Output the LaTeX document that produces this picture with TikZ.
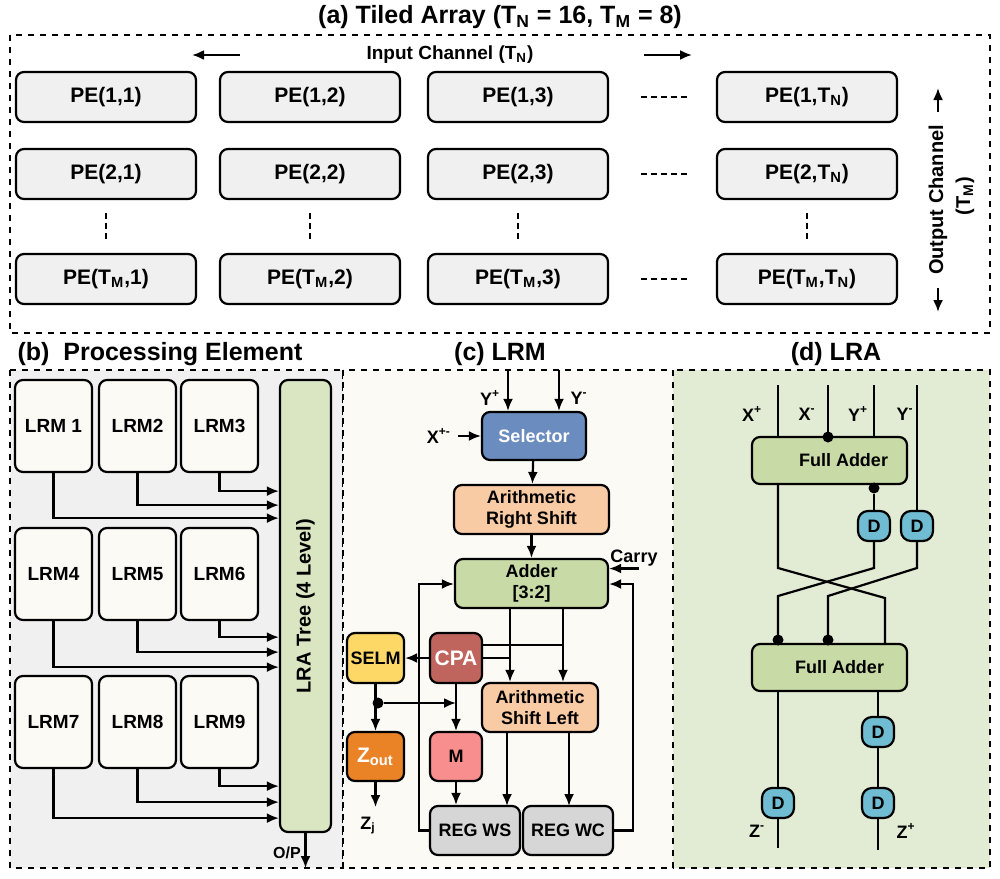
\documentclass[tikz,border=0pt]{standalone}
\usepackage{fontspec}
\setmainfont{Liberation Sans}
\usetikzlibrary{arrows.meta, positioning, calc}

\definecolor{peGray}{HTML}{F0F0F0}
\definecolor{lrmBg}{HTML}{FCFAF5}
\definecolor{lraBg}{HTML}{E2EBD3}
\definecolor{selBlue}{HTML}{6B8CBE}
\definecolor{shiftPeach}{HTML}{F9CBA5}
\definecolor{addGreen}{HTML}{C8DBA6}
\definecolor{selmYellow}{HTML}{FDD866}
\definecolor{cpaRed}{HTML}{C0645E}
\definecolor{mPink}{HTML}{F88E8E}
\definecolor{zOrange}{HTML}{E98326}
\definecolor{regGray}{HTML}{D6D6D6}
\definecolor{dBlue}{HTML}{6FBCD3}

\tikzset{
    blk/.style={draw, line width=1.1pt, rounded corners=4pt, font=\bfseries\fontsize{9}{10.5}\selectfont, align=center, inner sep=0pt},
    frame/.style={draw, dashed, line width=0.8pt},
    wire/.style={line width=1.1pt},
    arr/.style={wire, -{Latex[length=6pt,width=5pt]}},
    ttl/.style={font=\bfseries\fontsize{12.5}{14}\selectfont},
    lbl/.style={font=\bfseries\fontsize{9}{10}\selectfont},
    dot/.style={circle, fill, inner sep=0pt, minimum size=5.5pt}
}

\begin{document}
\begin{tikzpicture}[x=0.5pt, y=-0.5pt]
\useasboundingbox (0,0) rectangle (1000,878);

% (a) Tiled array
\node[ttl] (ttlA) at (500,17) {(a) Tiled Array (T\textsubscript{N} = 16, T\textsubscript{M} = 8)};
\draw[frame] (10,35) rectangle (990,333);
\node[lbl, font=\bfseries\fontsize{9.5}{11}\selectfont] (inCh) at (450,55) {Input Channel (T\textsubscript{N})};
\coordinate (inL) at (192,55);
\coordinate (inR) at (692,55);
\draw[arr] ($(inL)+(48,0)$) -- (inL);
\draw[arr] ($(inR)+(-48,0)$) -- (inR);

\foreach \c/\x/\t in {1/106/1, 2/310/2, 3/518/3, 4/807/T\textsubscript{N}} {
    \node[blk, fill=peGray, minimum width=90pt, minimum height=25pt, font=\bfseries\fontsize{10.5}{12}\selectfont] (pe1\c) at (\x,97) {PE(1,\t)};
    \node[blk, fill=peGray, minimum width=90pt, minimum height=25pt, font=\bfseries\fontsize{10.5}{12}\selectfont] (pe2\c) at (\x,174) {PE(2,\t)};
    \node[blk, fill=peGray, minimum width=90pt, minimum height=25pt, font=\bfseries\fontsize{10.5}{12}\selectfont] (pe3\c) at (\x,279) {PE(T\textsubscript{M},\t)};
    \draw[wire, densely dashed] ($(pe2\c.south)+(0,13)$) -- ($(pe3\c.north)+(0,-10)$);
}
\foreach \r in {1,2,3}
    \draw[wire, densely dashed] ($(pe\r3.east)+(32,0)$) -- ($(pe\r4.west)+(-28,0)$);

\node[lbl, rotate=90, font=\bfseries\fontsize{10}{11}\selectfont] (outCh) at (938,200) {Output Channel};
\node[lbl, rotate=90, font=\bfseries\fontsize{10}{11}\selectfont] (outTm) at (965,196) {(T\textsubscript{M})};
\draw[arr] ($(outCh.east)+(0,-6)$) -- (938,88);
\draw[arr] ($(outCh.west)+(0,6)$) -- (938,312);

% (b) Processing element
\node[ttl] (ttlB) at (160,354) {(b)\ \ Processing Element};
\draw[frame, fill=peGray] (10,370) rectangle (343,868);
\node[blk, fill=addGreen!70, minimum width=25.5pt, minimum height=226pt] (tree) at (305.5,606) {};
\node[lbl, rotate=90, font=\bfseries\fontsize{10}{11}\selectfont] at (tree) {LRA Tree (4 Level)};
\foreach \r/\y in {0/426, 1/574, 2/722} {
    \foreach \c/\x in {1/53.5, 2/137.5, 3/219.5} {
        \pgfmathtruncatemacro{\k}{3*\r+\c}
        \node[blk, fill=lrmBg, minimum width=38.5pt, minimum height=46pt, font=\bfseries\fontsize{9.5}{11}\selectfont] (lrm\k) at (\x,\y) {\ifnum\k=1 LRM 1\else LRM\k\fi};
    }
}
\foreach \k/\dy in {1/91, 2/78, 3/64, 4/92, 5/77, 6/62, 7/95, 8/79, 9/63} {
    \draw[arr] (lrm\k.south) -- ($(lrm\k.south)+(0,\dy-46)$) -- ($(tree.west|-lrm\k.south)+(0,\dy-46)$);
}
\node[lbl, font=\bfseries\fontsize{8}{9}\selectfont] (opLbl) at (287,853) {O/P};
\draw[arr] (tree.south) -- ++(0,35);

% (c) LRM
\node[ttl] (ttlC) at (500,354) {(c) LRM};
\draw[frame, fill=lrmBg] (343,370) rectangle (673,868);
\node[blk, fill=selBlue, text=white, minimum width=52pt, minimum height=24pt] (sel) at (534,436) {Selector};
\node[blk, fill=shiftPeach, minimum width=77.5pt, minimum height=24.5pt] (ars) at (531.5,509.5) {Arithmetic\\Right Shift};
\node[blk, fill=addGreen, minimum width=76.5pt, minimum height=24.5pt] (adder) at (531.5,583.5) {Adder\\{[}3:2{]}};
\node[blk, fill=selmYellow, minimum width=28.5pt, minimum height=25pt] (selm) at (375.5,658) {SELM};
\node[blk, fill=cpaRed, text=white, minimum width=26pt, minimum height=25pt, font=\bfseries\fontsize{10.5}{11}\selectfont] (cpa) at (456,658) {CPA};
\node[blk, fill=shiftPeach, minimum width=58pt, minimum height=24.5pt] (asl) at (540,707.5) {Arithmetic\\Shift Left};
\node[blk, fill=zOrange, text=white, minimum width=28.5pt, minimum height=24.5pt, font=\bfseries\fontsize{10.5}{11}\selectfont] (zout) at (375.5,756.5) {Z\textsubscript{out}};
\node[blk, fill=mPink, minimum width=26pt, minimum height=24.5pt] (mreg) at (456,756.5) {M};
\node[blk, fill=regGray, minimum width=45pt, minimum height=24.5pt] (ws) at (475,830.5) {REG WS};
\node[blk, fill=regGray, minimum width=45pt, minimum height=24.5pt] (wc) at (568,830.5) {REG WC};

\coordinate (ypIn) at (508,370);
\coordinate (ymIn) at (559,370);
\draw[arr] (ypIn) -- (ypIn|-sel.north);
\draw[arr] (ymIn) -- (ymIn|-sel.north);
\node[lbl] (ypLbl) at (490,398) {Y\textsuperscript{+}};
\node[lbl] (ymLbl) at (579,398) {Y\textsuperscript{-}};
\node[lbl, anchor=east] (xLbl) at (458,436) {X\textsuperscript{+-}};
\draw[arr] (xLbl) -- (sel);
\draw[arr] (sel) -- (ars);
\draw[arr] (ars) -- (adder);
\node[lbl] (carryLbl) at (634,558) {Carry};
\draw[arr] ($(adder.east)+(30,-15)$) coordinate (cin) -- (adder.east|-cin);
\draw[arr] (ws.west) -- ++(-10,0) |- ($(adder.west)+(0,0.5)$);
\draw[arr] (wc.east) -- ++(19,0) |- ($(adder.east)+(0,0.5)$);
\coordinate (sumOut) at (510,608);
\coordinate (carOut) at (563,608);
\draw[arr] (sumOut) -- (sumOut|-asl.north);
\draw[arr] (carOut) -- (carOut|-asl.north);
\draw[wire] ($(cpa.east)+(0,-13)$) -- ($(carOut)+(0,37)$);
\draw[wire] (cpa.east) -- ($(sumOut)+(0,50)$);
\draw[arr] (cpa) -- (selm);
\draw[arr] (cpa) -- (mreg);
\draw[arr] (selm) -- (zout);
\node[dot] (split) at (378,703) {};
\draw[arr] (split) -- (split-|mreg);
\draw[arr] (zout.south) -- ++(0,25) node[below left=1pt and -4pt, lbl] {Z\textsubscript{j}};
\draw[arr] (mreg) -- (mreg|-ws.north);
\draw[arr] (asl.south-|507,0) -- (507,806);
\draw[arr] (asl.south-|569,0) -- (569,806);

% (d) LRA
\node[ttl] (ttlD) at (836,354) {(d) LRA};
\draw[frame, fill=lraBg] (673,370) rectangle (990,868);
\node[blk, fill=addGreen, minimum width=77.5pt, minimum height=23.5pt] (fa1) at (829.5,460.5) {\hspace{14pt}Full Adder};
\node[blk, fill=addGreen, minimum width=77.5pt, minimum height=23.5pt] (fa2) at (829.5,667.5) {\hspace{10pt}Full Adder};
\foreach \n/\x/\y in {d1/874/526, d2/917/526, d4/878/732, d3/778/803, d5/878/803}
    \node[blk, fill=dBlue, minimum width=16pt, minimum height=15pt, rounded corners=5pt] (\n) at (\x,\y) {D};

\draw[wire] (778,385) -- (778,437);
\draw[wire] (828,385) -- (828,437);
\draw[wire] (874,385) -- (874,437);
\node[dot] at (828,437) {};
\node[lbl] at (752,414) {X\textsuperscript{+}};
\node[lbl] at (807,414) {X\textsuperscript{-}};
\node[lbl] at (858,414) {Y\textsuperscript{+}};
\node[lbl] at (905,414) {Y\textsuperscript{-}};
\draw[wire] (917,385) -- (d2.north);
\node[dot] (c1) at (874,488) {};
\draw[wire] (c1) -- (d1.north);
\draw[wire] (778,484) -- (778,568) -- (885,598) -- (885,644);
\draw[wire] (d1.south) -- (874,568) -- (778,596) -- (778,644);
\draw[wire] (d2.south) -- (917,568) -- (828,596) -- (828,644);
\node[dot] at (778,640) {};
\node[dot] at (828,640) {};
\draw[wire] (778,691) -- (d3.north);
\draw[wire] (d3.south) -- (778,848);
\draw[wire] (878,691) -- (d4.north);
\draw[wire] (d4.south) -- (d5.north);
\draw[wire] (d5.south) -- (878,850);
\node[lbl] at (757,831) {Z\textsuperscript{-}};
\node[lbl] at (906,831) {Z\textsuperscript{+}};

\end{tikzpicture}
\end{document}
